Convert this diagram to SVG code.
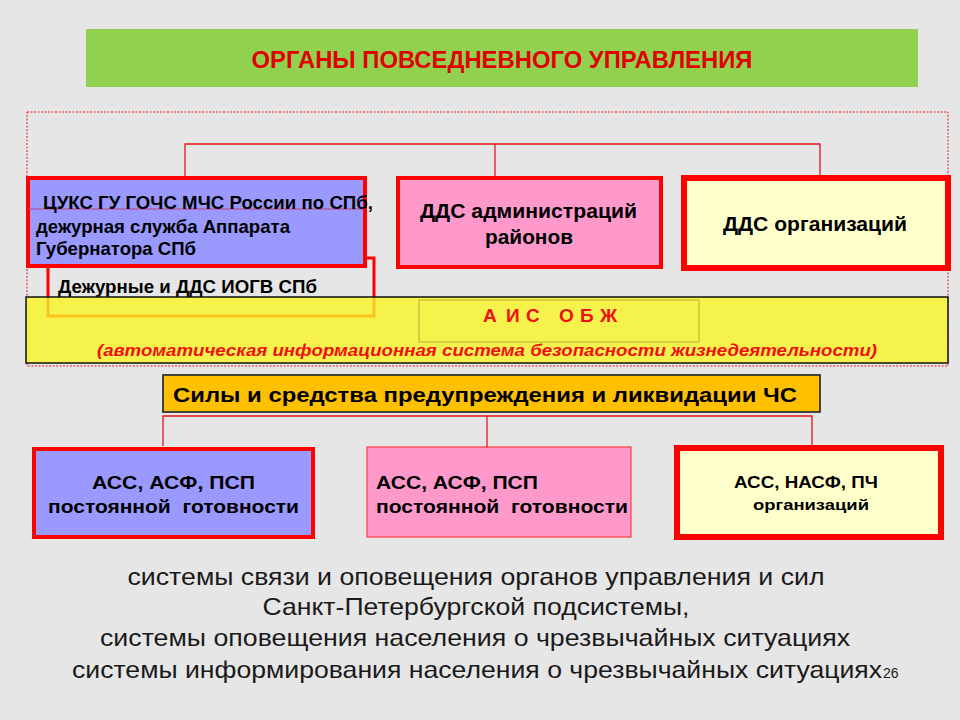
<svg xmlns="http://www.w3.org/2000/svg" width="960" height="720" viewBox="0 0 960 720">
<style>
.b{font-family:"Liberation Sans",Arial,sans-serif;font-weight:bold;fill:#000}
.conn{stroke:#e8141c;stroke-width:1.3;fill:none}
.plain{font-family:"Liberation Sans",Arial,sans-serif;fill:#1a1a1a}
</style>
<rect x="0" y="0" width="960" height="720" fill="#e6e6e6"/>

<g id="title">
<rect x="86" y="29" width="832" height="58" fill="#92d050"/>
<text x="502" y="68" text-anchor="middle" class="b" style="fill:#e00000" font-size="23" textLength="501" lengthAdjust="spacingAndGlyphs">ОРГАНЫ ПОВСЕДНЕВНОГО УПРАВЛЕНИЯ</text>
</g>

<g id="frame">
<rect x="27" y="112" width="921" height="254" fill="none" stroke="#e02020" stroke-width="1" stroke-dasharray="2,1.5"/>
</g>

<g id="connectors">
<polyline class="conn" points="185,176 185,144 820,144 820,175"/>
<line class="conn" x1="495" y1="144" x2="495" y2="176"/>
<polyline class="conn" points="163,446 163,416 812,416 812,445"/>
<line class="conn" x1="487" y1="416" x2="487" y2="447"/>
</g>

<g id="iogv">
<rect x="48" y="258" width="326" height="58" fill="none" stroke="#ff0000" stroke-width="3"/>
<text x="58" y="293" class="b" font-size="18.5" textLength="259" lengthAdjust="spacingAndGlyphs">Дежурные и ДДС ИОГВ СПб</text>
</g>

<g id="cuks">
<rect x="28" y="178" width="337" height="88" fill="#9999ff" stroke="#ff0000" stroke-width="4"/>
<line x1="28" y1="209" x2="365" y2="209" stroke="#c2407a" stroke-width="1.2"/>
<text x="43" y="209" class="b" font-size="18.5" textLength="330" lengthAdjust="spacingAndGlyphs">ЦУКС ГУ ГОЧС МЧС России по СПб,</text>
<text x="36" y="233" class="b" font-size="18.5" textLength="254" lengthAdjust="spacingAndGlyphs">дежурная служба Аппарата</text>
<text x="36" y="255" class="b" font-size="18.5" textLength="160" lengthAdjust="spacingAndGlyphs">Губернатора СПб</text>
</g>

<g id="dds-rayon">
<rect x="398" y="178" width="263" height="89" fill="#ff99cc" stroke="#ff0000" stroke-width="4"/>
<text x="420" y="218" class="b" font-size="19.5" textLength="217" lengthAdjust="spacingAndGlyphs">ДДС администраций</text>
<text x="485" y="244" class="b" font-size="19.5" textLength="88" lengthAdjust="spacingAndGlyphs">районов</text>
</g>

<g id="dds-org">
<rect x="684" y="178" width="264" height="90" fill="#ffffcc" stroke="#ff0000" stroke-width="6"/>
<text x="723" y="231" class="b" font-size="19.5" textLength="184" lengthAdjust="spacingAndGlyphs">ДДС организаций</text>
</g>

<g id="ais">
<rect x="26" y="297" width="922" height="66" fill="rgb(249,245,38)" fill-opacity="0.8" stroke="#111" stroke-width="1.5"/>
<rect x="419" y="300" width="280" height="42" fill="none" stroke="#b4b432" stroke-width="1"/>
<text x="483 506 526 559 580 600" y="322" class="b" style="fill:#ee1111" font-size="19">АИСОБЖ</text>
<text x="97" y="356" class="b" style="fill:#ee1111;font-style:italic" font-size="17" textLength="780" lengthAdjust="spacingAndGlyphs">(автоматическая информационная система безопасности жизнедеятельности)</text>
</g>

<g id="forces">
<rect x="163" y="375" width="657" height="37" fill="#ffc000" stroke="#333" stroke-width="1.8"/>
<text x="173" y="402" class="b" font-size="20.5" textLength="624" lengthAdjust="spacingAndGlyphs">Силы и средства предупреждения и ликвидации ЧС</text>
</g>

<g id="ass1">
<rect x="34" y="449" width="279" height="88" fill="#9999ff" stroke="#ff0000" stroke-width="4"/>
<text x="92" y="489" class="b" font-size="19" textLength="163" lengthAdjust="spacingAndGlyphs">АСС, АСФ, ПСП</text>
<text x="48" y="513" class="b" font-size="19" textLength="251" lengthAdjust="spacingAndGlyphs" xml:space="preserve">постоянной  готовности</text>
</g>

<g id="ass2">
<rect x="367" y="447" width="264" height="90" fill="#ff99cc" stroke="#ff2020" stroke-width="1"/>
<text x="376" y="489" class="b" font-size="19" textLength="162" lengthAdjust="spacingAndGlyphs">АСС, АСФ, ПСП</text>
<text x="376" y="513" class="b" font-size="19" textLength="252" lengthAdjust="spacingAndGlyphs" xml:space="preserve">постоянной  готовности</text>
</g>

<g id="ass3">
<rect x="677" y="448" width="264" height="89" fill="#ffffcc" stroke="#ff0000" stroke-width="6"/>
<text x="734" y="488" class="b" font-size="17" textLength="144" lengthAdjust="spacingAndGlyphs">АСС, НАСФ, ПЧ</text>
<text x="753" y="510" class="b" font-size="15" textLength="116" lengthAdjust="spacingAndGlyphs">организаций</text>
</g>

<g id="bottom-text">
<text x="476" y="585" text-anchor="middle" class="plain" font-size="24" textLength="697" lengthAdjust="spacingAndGlyphs">системы связи и оповещения органов управления и сил</text>
<text x="476" y="615" text-anchor="middle" class="plain" font-size="24" textLength="427" lengthAdjust="spacingAndGlyphs">Санкт-Петербургской подсистемы,</text>
<text x="475" y="646" text-anchor="middle" class="plain" font-size="24" textLength="750" lengthAdjust="spacingAndGlyphs">системы оповещения населения о чрезвычайных ситуациях</text>
<text x="477" y="678" text-anchor="middle" class="plain" font-size="24" textLength="810" lengthAdjust="spacingAndGlyphs">системы информирования населения о чрезвычайных ситуациях</text>
<text x="883" y="678" class="plain" font-size="14">26</text>
</g>
</svg>
